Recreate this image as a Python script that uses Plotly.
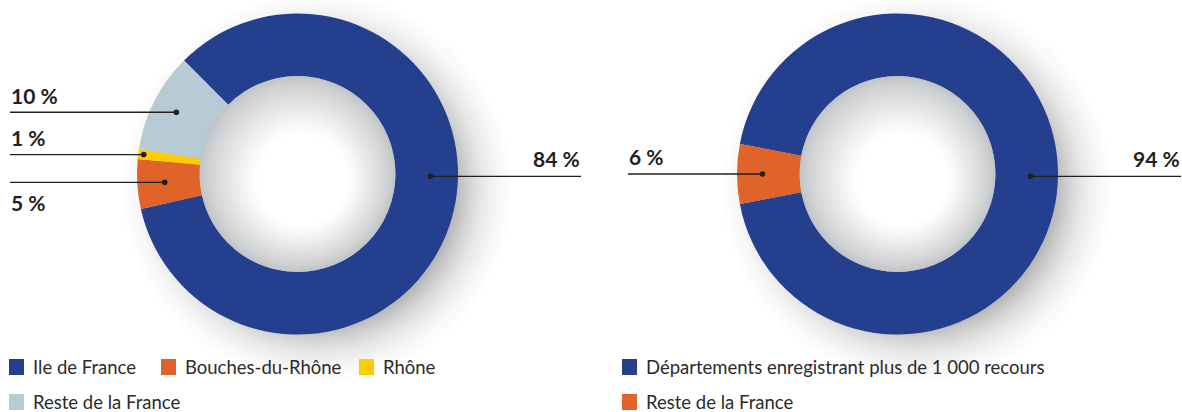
import math
import plotly.graph_objects as go

# ---------------- data ----------------
left_labels = ["Ile de France", "Bouches-du-Rhône", "Rhône", "Reste de la France"]
left_values = [84, 5, 1, 10]
left_colors = ["#253f8f", "#e0632a", "#ffcc00", "#b8cad3"]

right_labels = ["Départements enregistrant plus de 1 000 recours", "Reste de la France"]
right_values = [94, 6]
right_colors = ["#253f8f", "#e0632a"]

# ---------------- layout constants (pixels of the reference picture) ----------------
W, H = 1182, 412
R = 160.5
HOLE = 0.61
LEFT_C = (297.5, 174)
RIGHT_C = (897.5, 174)
TEXT = "#231f20"
LABEL_FONT = dict(family="Lato", size=21, color=TEXT)
LEG_FONT = dict(family="Lato", size=18.5, color="#2b2b2b")


def px(x):
    return x / W


def py(y):
    return 1 - y / H


shapes = []
annotations = []


def circle(cx, cy, r, fill, layer):
    shapes.append(dict(type="circle", xref="paper", yref="paper",
                       x0=px(cx - r), x1=px(cx + r), y0=py(cy + r), y1=py(cy - r),
                       fillcolor=fill, line=dict(width=0), layer=layer))


def outer_shadow(c):
    cx, cy = c[0] + 20, c[1] + 14
    def alpha(d):
        t = min(max((d - 138) / 70.0, 0), 1)
        return 0.26 * (1 - t) ** 2
    radii = [208 - 2 * k for k in range(36)]
    prevT = 1.0
    for r in radii:
        T = 1 - alpha(r)
        a = 1 - T / prevT
        prevT = T
        if a > 0:
            circle(cx, cy, r, f"rgba(0,0,0,{a:.4f})", "below")


def hole_shading(c):
    Rh = R * HOLE
    circle(c[0], c[1], Rh, "#c3c6c9", "above")
    D = (9, 11)
    s0 = 0.45
    n = 40
    prevT = 1.0
    for k in range(1, n + 1):
        s = 1 - k * (1 - 0.25) / n
        t = min(max((s - s0) / (1 - s0), 0), 1)
        Wf = 1 - t ** 1.6
        T = 1 - Wf
        a = 1 - (T / prevT if prevT > 0 else 1)
        prevT = T
        ccx = c[0] + (1 - s) * D[0]
        ccy = c[1] + (1 - s) * D[1]
        if a > 0:
            circle(ccx, ccy, s * Rh, f"rgba(255,255,255,{min(a,1):.4f})", "above")


def pie_domain(c):
    return dict(x=[px(c[0] - R), px(c[0] + R)], y=[py(c[1] + R), py(c[1] - R)])


def slice_anchor(values, rotation, i, radius):
    total = sum(values)
    start = rotation + 360 * sum(values[:i]) / total
    span = 360 * values[i] / total
    ang = start + span / 2 if values[i] / total < 0.5 else 91
    a = math.radians(ang)
    return radius * math.sin(a), -radius * math.cos(a)


def leader(c, values, rotation, i, radius, side, text_dy, edge_x):
    dx, dy = slice_anchor(values, rotation, i, radius)
    x, y = c[0] + dx, c[1] + dy
    x0, x1 = (edge_x, x) if side == "left" else (x, edge_x)
    shapes.append(dict(type="line", xref="paper", yref="paper",
                       x0=px(x0), x1=px(x1), y0=py(y), y1=py(y),
                       line=dict(color=TEXT, width=1.3), layer="above"))
    circle(x, y, 2.8, TEXT, "above")
    annotations.append(dict(xref="paper", yref="paper", x=px(edge_x), y=py(y + text_dy),
                            text=f"<b>{values[i]} %</b>", showarrow=False,
                            xanchor="left" if side == "left" else "right", yanchor="middle",
                            font=LABEL_FONT, borderpad=0))


def legend_item(x, y, color, label):
    shapes.append(dict(type="rect", xref="paper", yref="paper",
                       x0=px(x), x1=px(x + 15), y0=py(y + 8), y1=py(y - 8),
                       fillcolor=color, line=dict(width=0), layer="above"))
    annotations.append(dict(xref="paper", yref="paper", x=px(x + 23), y=py(y),
                            text=label, showarrow=False, xanchor="left", yanchor="middle",
                            font=LEG_FONT, borderpad=0))


LEFT_ROT = -45
RIGHT_ROT = 270 + 180 * right_values[1] / sum(right_values)

fig = go.Figure()
fig.add_trace(go.Pie(labels=left_labels, values=left_values, hole=HOLE, sort=False,
                     direction="clockwise", rotation=LEFT_ROT, textinfo="none",
                     marker=dict(colors=left_colors, line=dict(width=0)),
                     domain=pie_domain(LEFT_C), showlegend=False))
fig.add_trace(go.Pie(labels=right_labels, values=right_values, hole=HOLE, sort=False,
                     direction="clockwise", rotation=RIGHT_ROT, textinfo="none",
                     marker=dict(colors=right_colors, line=dict(width=0)),
                     domain=pie_domain(RIGHT_C), showlegend=False))

outer_shadow(LEFT_C)
outer_shadow(RIGHT_C)
hole_shading(LEFT_C)
hole_shading(RIGHT_C)

# leaders: left chart
leader(LEFT_C, left_values, LEFT_ROT, 0, 133, "right", -18, 581)
leader(LEFT_C, left_values, LEFT_ROT, 1, 133, "left", 20, 10)
leader(LEFT_C, left_values, LEFT_ROT, 2, 155, "left", -17, 10)
leader(LEFT_C, left_values, LEFT_ROT, 3, 136, "left", -16.5, 10)
# right chart
leader(RIGHT_C, right_values, RIGHT_ROT, 0, 133, "right", -18, 1181)
leader(RIGHT_C, right_values, RIGHT_ROT, 1, 135, "left", -18, 628)

# custom legends
legend_item(9, 367, left_colors[0], left_labels[0])
legend_item(161, 367, left_colors[1], left_labels[1])
legend_item(359, 367, left_colors[2], left_labels[2])
legend_item(9, 402, left_colors[3], left_labels[3])
legend_item(622, 367, right_colors[0], right_labels[0])
legend_item(622, 402, right_colors[1], right_labels[1])

fig.update_layout(width=W, height=H, margin=dict(l=0, r=0, t=0, b=0),
                  paper_bgcolor="white", plot_bgcolor="white",
                  shapes=shapes, annotations=annotations, showlegend=False)
fig.write_html("out.html",
               config={"displayModeBar": False},
               post_script="document.body.style.margin='0';"
                           "document.documentElement.style.overflow='hidden';"
                           "document.body.style.overflow='hidden';")
